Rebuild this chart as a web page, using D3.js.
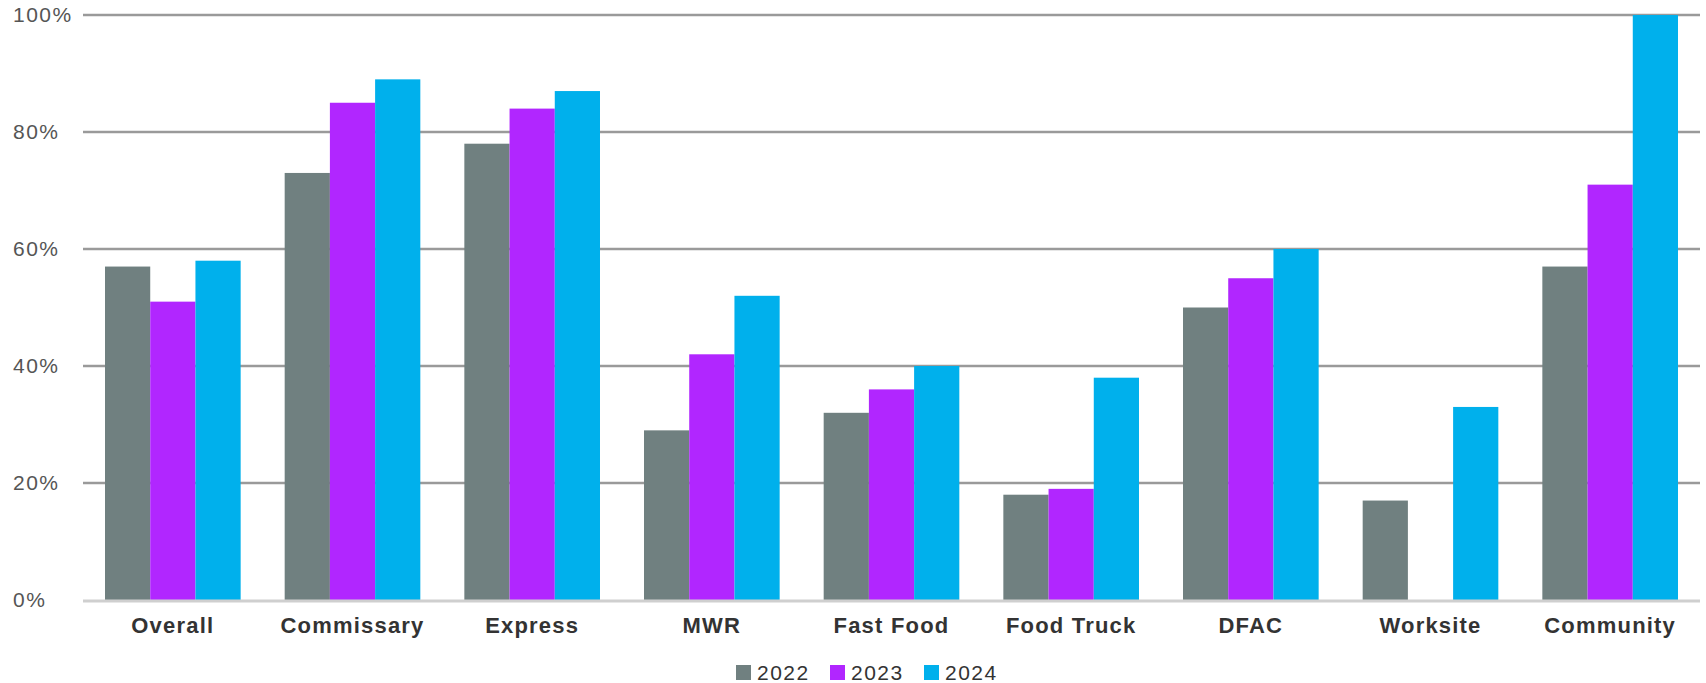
<!DOCTYPE html>
<html>
<head>
<meta charset="utf-8">
<script src="https://cdn.jsdelivr.net/npm/d3@7"></script>
<style>
  body { margin: 0; background: #fff; }
  svg { display: block; font-family: "Liberation Sans", Arial, sans-serif; }
</style>
</head>
<body>
<div id="chart"></div>
<script>
var categories = ['Overall', 'Commissary', 'Express', 'MWR', 'Fast Food', 'Food Truck', 'DFAC', 'Worksite', 'Community'];
var years = ['2022', '2023', '2024'];
var values2022 = [57, 73, 78, 29, 32, 18, 50, 17, 57];
var values2023 = [51, 85, 84, 42, 36, 19, 55, 0, 71];
var values2024 = [58, 89, 87, 52, 40, 38, 60, 33, 100];
var yTicks = [0, 20, 40, 60, 80, 100];
var colors = ['#708080', '#b126ff', '#00b0ec'];

var series = [values2022, values2023, values2024];

var width = 1706, height = 683;
var margin = {top: 15, right: 6, bottom: 83, left: 83};

var svg = d3.select('#chart')
    .append('svg')
    .attr('width', width)
    .attr('height', height);

var x = d3.scaleBand()
    .domain(categories)
    .range([margin.left, width - margin.right])
    .paddingInner(0.245)
    .paddingOuter(0.1225);

var xInner = d3.scaleBand()
    .domain(years)
    .range([0, x.bandwidth()]);

var y = d3.scaleLinear()
    .domain([0, 100])
    .range([height - margin.bottom, margin.top]);

// gridlines
svg.selectAll('.grid')
    .data(yTicks.filter(function(d) { return d > 0; }))
    .enter()
    .append('line')
    .attr('class', 'grid')
    .attr('x1', margin.left)
    .attr('x2', width - margin.right)
    .attr('y1', function(d) { return y(d); })
    .attr('y2', function(d) { return y(d); })
    .style('stroke', '#9a9a9a')
    .style('stroke-width', 2.5);

// y labels
svg.selectAll('.ylabel')
    .data(yTicks)
    .enter()
    .append('text')
    .attr('class', 'ylabel')
    .attr('x', 13)
    .attr('y', function(d) { return y(d) + 7; })
    .style('font-size', '21px')
    .style('letter-spacing', '1.5px')
    .style('fill', '#555')
    .text(function(d) { return d + '%'; });

// bars
var groups = svg.selectAll('g.cat')
    .data(categories)
    .enter()
    .append('g')
    .attr('class', 'cat')
    .attr('transform', function(d) { return 'translate(' + x(d) + ',0)'; });

groups.selectAll('rect')
    .data(function(d, i) {
        return years.map(function(yr, j) { return {year: yr, value: series[j][i], idx: j}; });
    })
    .enter()
    .append('rect')
    .attr('x', function(d) { return xInner(d.year); })
    .attr('width', xInner.bandwidth())
    .attr('y', function(d) { return y(d.value); })
    .attr('height', function(d) { return y(0) - y(d.value); })
    .style('fill', function(d) { return colors[d.idx]; });

// baseline
svg.append('line')
    .attr('x1', margin.left)
    .attr('x2', width - margin.right)
    .attr('y1', y(0) + 1)
    .attr('y2', y(0) + 1)
    .style('stroke', '#cfcfcf')
    .style('stroke-width', 3);

// x labels
svg.selectAll('.xlabel')
    .data(categories)
    .enter()
    .append('text')
    .attr('class', 'xlabel')
    .attr('x', function(d) { return x(d) + x.bandwidth() / 2; })
    .attr('y', 633)
    .attr('text-anchor', 'middle')
    .style('font-size', '22px')
    .style('font-weight', 'bold')
    .style('letter-spacing', '1.2px')
    .style('fill', '#333')
    .text(function(d) { return d; });

// legend
var legendX = [736, 830, 924];
var legend = svg.selectAll('g.legend')
    .data(years)
    .enter()
    .append('g')
    .attr('class', 'legend')
    .attr('transform', function(d, i) { return 'translate(' + legendX[i] + ',665)'; });

legend.append('rect')
    .attr('width', 15)
    .attr('height', 15)
    .style('fill', function(d, i) { return colors[i]; });

legend.append('text')
    .attr('x', 21)
    .attr('y', 15)
    .style('font-size', '21px')
    .style('letter-spacing', '1.5px')
    .style('fill', '#333')
    .text(function(d) { return d; });
</script>
</body>
</html>
